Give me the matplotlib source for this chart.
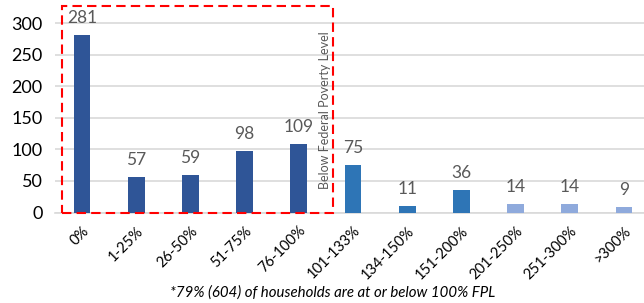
import matplotlib
matplotlib.use("Agg")
import matplotlib.pyplot as plt
from matplotlib.patches import Rectangle

plt.rcParams['font.family'] = ['Lato', 'DejaVu Sans']

categories = ['0%', '1-25%', '26-50%', '51-75%', '76-100%', '101-133%',
              '134-150%', '151-200%', '201-250%', '251-300%', '>300%']
households = [281, 57, 59, 98, 109, 75, 11, 36, 14, 14, 9]
bar_colors = ['#2F5597'] * 5 + ['#2E75B6'] * 3 + ['#8FAADC'] * 3
footnote = '*79% (604) of households are at or below 100% FPL'
box_label = 'Below Federal Poverty Level'

fig = plt.figure(figsize=(6.44, 3.03), dpi=100)
ax = fig.add_axes([55 / 644, 1 - 212.5 / 303, 596 / 644, 212.5 / 303])

x = range(len(categories))
ax.bar(x, households, width=0.31, color=bar_colors, zorder=3)

for i, v in enumerate(households):
    ax.text(i, v + 14, str(v), ha='center', va='bottom', fontsize=12.5,
            color='#595959')

ax.set_xlim(-0.5, len(categories) - 0.5)
ax.set_ylim(0, 337)
ax.set_yticks([0, 50, 100, 150, 200, 250, 300])
ax.yaxis.grid(True, color='#D9D9D9', linewidth=1.2, zorder=0)
ax.set_axisbelow(True)
for s in ['top', 'right', 'left']:
    ax.spines[s].set_visible(False)
ax.spines['bottom'].set_color('#D9D9D9')
ax.spines['bottom'].set_linewidth(1.2)
ax.tick_params(axis='y', length=0, labelsize=13, pad=9, colors='#000000')
ax.tick_params(axis='x', length=0, pad=8)
ax.set_xticks(list(x))
ax.set_xticklabels(categories, rotation=45, ha='right', rotation_mode='anchor',
                   fontsize=10.5, color='#000000')

# dashed box around the below-poverty bars
box = Rectangle((-0.37, 0), 5.0, 328, fill=False, edgecolor='#FF0000',
                linestyle=(0, (4.5, 2.5)), linewidth=1.5, clip_on=False, zorder=4)
ax.add_patch(box)
ax.text(4.48, 162, box_label, rotation=90, ha='center', va='center',
        fontsize=9, color='#595959')

fig.text(333 / 644, 1 - 293 / 303, footnote, ha='center', va='center',
         fontsize=10.8, style='italic', color='#000000')

fig.savefig('out.png', dpi=100)
